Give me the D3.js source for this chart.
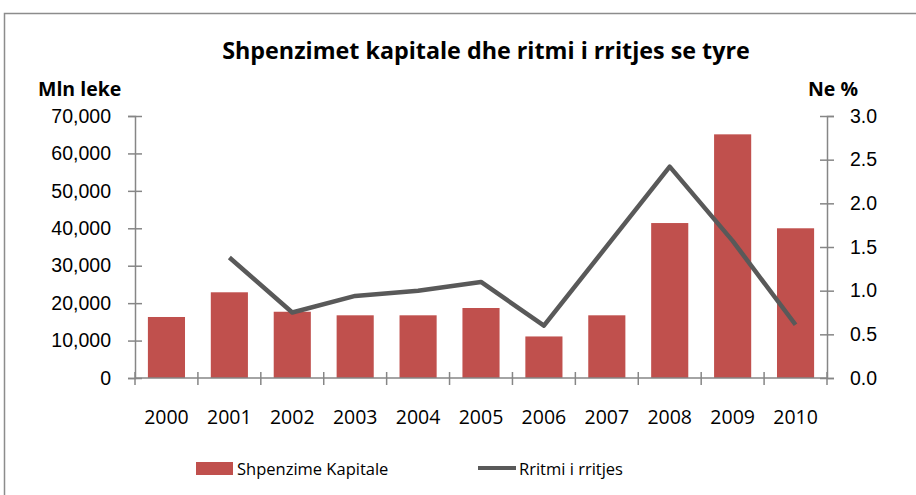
<!DOCTYPE html>
<html>
<head>
<meta charset="utf-8"/>
<title>Shpenzimet kapitale</title>
<style>
  body { margin: 0; background: #fff; }
  svg { display: block; font-family: "Open Sans", "Liberation Sans", sans-serif; }
  .axis path, .axis line { stroke: #868686; stroke-width: 1.5; }
  .axis text { fill: #000; font-size: 19.5px; }
</style>
</head>
<body>
<svg width="916" height="495"></svg>
<script src="https://cdn.jsdelivr.net/npm/d3@7"></script>
<script>

// Data
var years = ["2000","2001","2002","2003","2004","2005","2006","2007","2008","2009","2010"];
var shpenzime = [16300, 22900, 17700, 16750, 16750, 18700, 11100, 16750, 41400, 65100, 40000];
var rritmi = [null, 1.38, 0.75, 0.94, 1.0, 1.10, 0.60, 1.51, 2.42, 1.57, 0.61];
var leftTicks = [0, 10000, 20000, 30000, 40000, 50000, 60000, 70000];
var rightTicks = [0, 0.5, 1.0, 1.5, 2.0, 2.5, 3.0];

var svg = d3.select("svg"),
    margin = {top: 116, right: 89, bottom: 117, left: 135},
    width = 916 - margin.left - margin.right,
    height = 495 - margin.top - margin.bottom,
    g = svg.append("g").attr("transform", "translate(" + margin.left + "," + margin.top + ")");

// frame around the chart
svg.append("path")
    .attr("d", "M4.5,495V13.5H916")
    .attr("fill", "none")
    .attr("stroke", "#8c8c8c")
    .attr("stroke-width", 1.5);

var x = d3.scaleBand().domain(years).range([0, width]).paddingInner(0.41).paddingOuter(0.205);
var xTicks = d3.scaleLinear().domain([0, years.length]).range([0, width]);
var y = d3.scaleLinear().domain([0, 70000]).range([height, 0]);
var y2 = d3.scaleLinear().domain([0, 3]).range([height, 0]);

// bars
g.append("g").selectAll("rect")
    .data(shpenzime)
    .enter().append("rect")
      .attr("x", function(d, i) { return x(years[i]); })
      .attr("y", function(d) { return y(d); })
      .attr("width", x.bandwidth())
      .attr("height", function(d) { return height - y(d); })
      .attr("fill", "#c0504d");

// left axis
var yAxis = g.append("g")
    .attr("class", "axis")
    .call(d3.axisLeft(y).tickValues(leftTicks).tickFormat(d3.format(",")).tickSizeOuter(0).tickSize(7).tickPadding(17));
yAxis.selectAll(".tick line").attr("x2", 7).attr("x1", -7);

// right axis
var y2Axis = g.append("g")
    .attr("class", "axis")
    .attr("transform", "translate(" + width + ",0)")
    .call(d3.axisRight(y2).tickValues(rightTicks).tickFormat(d3.format(".1f")).tickSizeOuter(0).tickSize(7).tickPadding(16));
y2Axis.selectAll(".tick line").attr("x1", -7).attr("x2", 7);

// x axis with ticks between categories
var xAxis = g.append("g")
    .attr("class", "axis")
    .attr("transform", "translate(0," + height + ")");
xAxis.append("line").attr("x1", 0).attr("x2", width);
xAxis.selectAll(".xt")
    .data(d3.range(years.length + 1))
    .enter().append("line")
      .attr("x1", function(d) { return xTicks(d); })
      .attr("x2", function(d) { return xTicks(d); })
      .attr("y1", -6).attr("y2", 7);
xAxis.selectAll("text")
    .data(years)
    .enter().append("text")
      .attr("x", function(d) { return x(d) + x.bandwidth() / 2; })
      .attr("y", 46)
      .attr("text-anchor", "middle")
      .text(function(d) { return d; });

// line series
var line = d3.line()
    .defined(function(d) { return d != null; })
    .x(function(d, i) { return x(years[i]) + x.bandwidth() / 2; })
    .y(function(d) { return y2(d); });

g.append("path")
    .datum(rritmi)
    .attr("d", line)
    .attr("fill", "none")
    .attr("stroke", "#595959")
    .attr("stroke-width", 4.5)
    .attr("stroke-linejoin", "round");

// titles
svg.append("text")
    .attr("x", 486).attr("y", 59)
    .attr("text-anchor", "middle")
    .style("font-size", "23.3px").style("font-weight", "bold")
    .text("Shpenzimet kapitale dhe ritmi i rritjes se tyre");

svg.append("text")
    .attr("x", 38).attr("y", 96)
    .style("font-size", "19.5px").style("font-weight", "bold")
    .text("Mln leke");

svg.append("text")
    .attr("x", 808).attr("y", 96)
    .style("font-size", "19.5px").style("font-weight", "bold")
    .text("Ne %");

// legend
var legend = svg.append("g").style("font-size", "16.5px");
legend.append("rect")
    .attr("x", 196).attr("y", 462).attr("width", 37).attr("height", 13)
    .attr("fill", "#c0504d");
legend.append("text").attr("x", 237).attr("y", 475).text("Shpenzime Kapitale");
legend.append("line")
    .attr("x1", 478).attr("x2", 516).attr("y1", 468).attr("y2", 468)
    .attr("stroke", "#595959").attr("stroke-width", 4);
legend.append("text").attr("x", 519).attr("y", 475).text("Rritmi i rritjes");

</script>
</body>
</html>
